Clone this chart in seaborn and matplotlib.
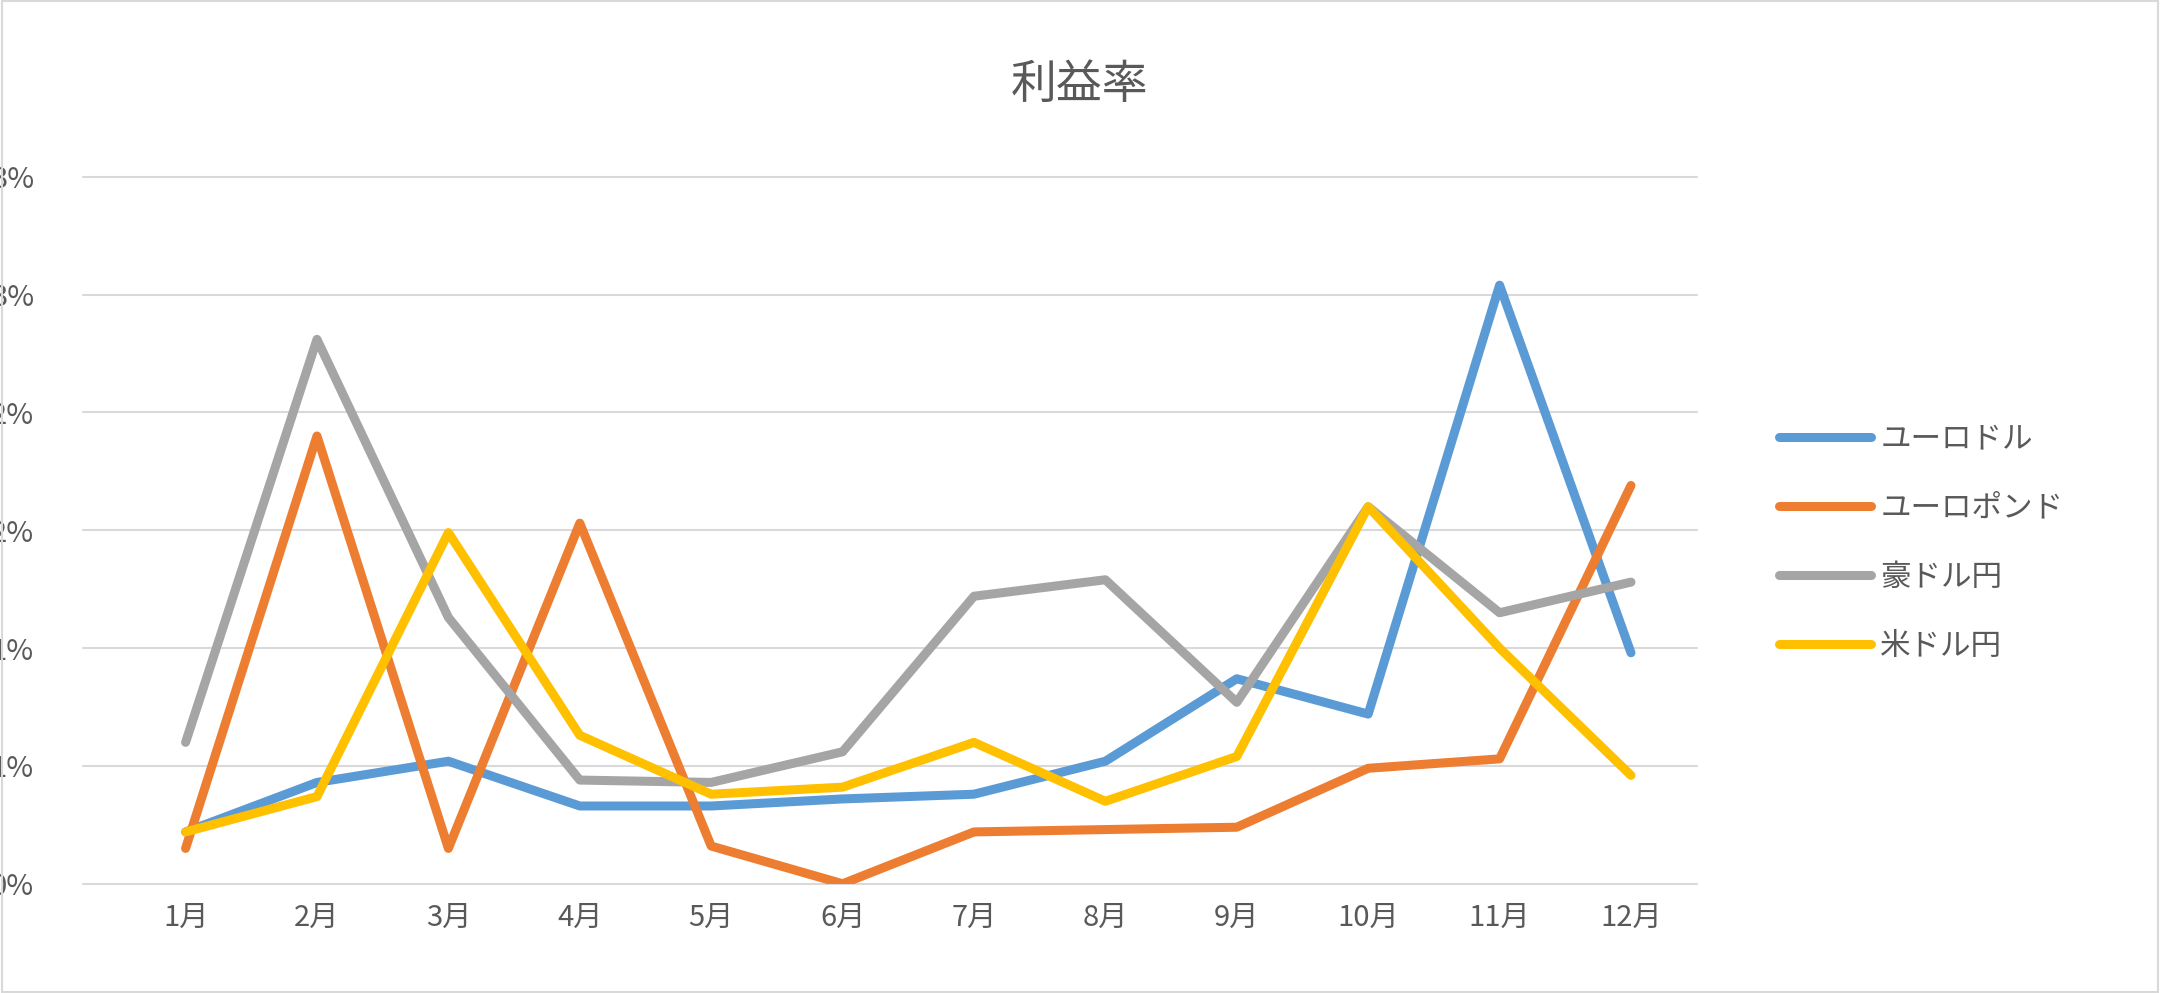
import matplotlib
matplotlib.use("Agg")
import math
import matplotlib.pyplot as plt
import seaborn as sns
import pandas as pd
from matplotlib.ticker import FuncFormatter

months = ["1月","2月","3月","4月","5月","6月","7月","8月","9月","10月","11月","12月"]
eurusd = [0.22,0.43,0.52,0.33,0.33,0.36,0.38,0.52,0.87,0.72,2.54,0.98]
eurgbp = [0.15,1.90,0.15,1.53,0.16,0.00,0.22,0.23,0.24,0.49,0.53,1.69]
audjpy = [0.60,2.31,1.13,0.44,0.43,0.56,1.22,1.29,0.77,1.60,1.15,1.28]
usdjpy = [0.22,0.37,1.49,0.63,0.38,0.41,0.60,0.35,0.54,1.60,1.00,0.46]
names = ["ユーロドル","ユーロポンド","豪ドル円","米ドル円"]
colors = ["#5B9BD5","#ED7D31","#A5A5A5","#FFC000"]

sns.set_theme(style="white")
plt.rcParams['font.family'] = ['Noto Sans CJK JP','DejaVu Sans']

rows = []
for n, vals in zip(names, [eurusd, eurgbp, audjpy, usdjpy]):
    for i, (m, v) in enumerate(zip(months, vals)):
        rows.append({"idx": i, "月": m, "値": v, "系列": n})
df = pd.DataFrame(rows)

fig = plt.figure(figsize=(21.6, 9.93), dpi=100)
fig.patches.append(plt.Rectangle((0.001,0.001),0.998,0.998,transform=fig.transFigure,
                                 fill=False,edgecolor="#D9D9D9",linewidth=1.5))
ax = fig.add_axes([0.0555, 0.110, 0.730, 0.712])
sns.lineplot(data=df, x="idx", y="値", hue="系列", palette=colors, linewidth=6.5,
             ax=ax, legend=True)
ax.set_xlim(-0.5, 11.5)
ax.set_ylim(0, 3)
ax.set_yticks([0,0.5,1,1.5,2,2.5,3])
ax.yaxis.set_major_formatter(FuncFormatter(lambda v, p: f"{int(math.floor(v + 0.5))}%"))
ax.set_xticks(range(12))
ax.set_xticklabels(months)
# extend gridlines to the left like the reference
for y in [0,0.5,1,1.5,2,2.5,3]:
    ax.plot([-0.78, 11.5], [y, y], color="#D9D9D9", linewidth=1.5, zorder=0, clip_on=False)
for s in ax.spines.values():
    s.set_visible(False)
ax.tick_params(axis="both", colors="#595959", labelsize=21, length=0, pad=14)
for lab in ax.get_yticklabels():
    lab.set_horizontalalignment("left")
ax.yaxis.set_tick_params(pad=93)
ax.set_xlabel("")
ax.set_ylabel("")
fig.text(0.5, 0.915, "利益率", ha="center", va="center", fontsize=33, color="#595959")
leg = ax.legend(loc="upper left", bbox_to_anchor=(1.035, 0.69), frameon=False,
                fontsize=22, labelcolor="#595959", handlelength=3.0,
                labelspacing=1.25, handletextpad=0.3)
for l in leg.get_lines():
    l.set_linewidth(6.5)
fig.savefig("out.png", dpi=100)
